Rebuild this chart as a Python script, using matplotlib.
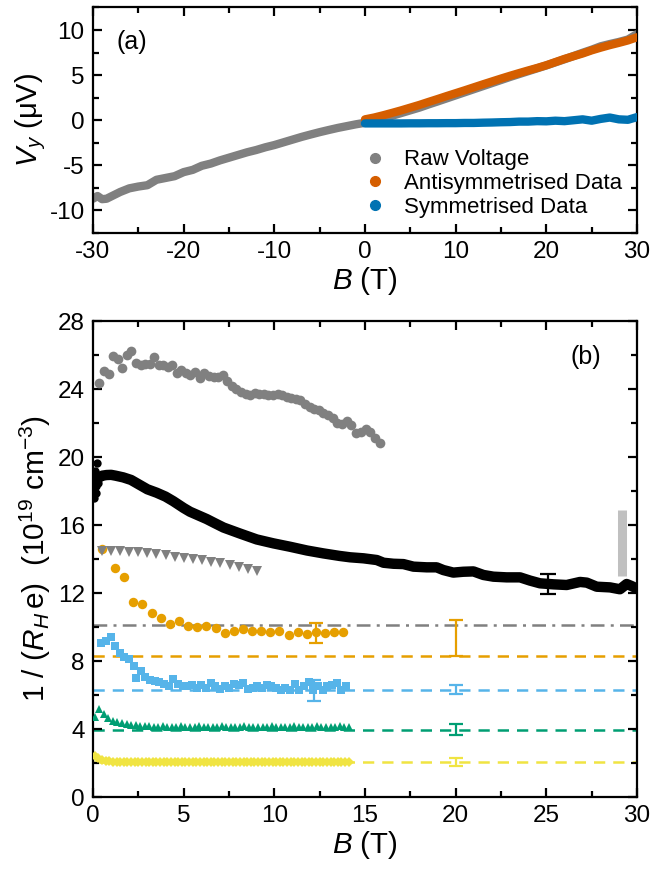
import matplotlib
matplotlib.use("Agg")
import matplotlib.pyplot as plt
from matplotlib.lines import Line2D
from matplotlib.ticker import MultipleLocator

plt.rcParams['font.family'] = ['Liberation Sans', 'DejaVu Sans']
plt.rcParams['mathtext.fontset'] = 'custom'
plt.rcParams['mathtext.rm'] = 'Liberation Sans'
plt.rcParams['mathtext.it'] = 'Liberation Sans:italic'
plt.rcParams['axes.unicode_minus'] = False

# ---------------- panel (a) data ----------------
B_raw = [-30, -29.5, -29, -28.5, -28, -27, -26, -25, -24, -23, -22, -21, -20, -19, -18, -17, -16, -15,
         -14, -13, -12, -11, -10, -9, -8, -7, -6, -5, -4, -3, -2, -1, 0,
         1, 2, 3, 4, 5, 6, 7, 8, 9, 10, 11, 12, 13, 14, 15, 16, 17, 18, 19, 20,
         21, 22, 23, 24, 25, 26, 27, 28, 29, 30]
V_raw = [-8.7, -8.4, -8.75, -8.7, -8.45, -7.95, -7.55, -7.35, -7.2, -6.6, -6.4, -6.2, -5.75, -5.5, -5.05, -4.8, -4.45, -4.15,
         -3.85, -3.55, -3.3, -3.0, -2.75, -2.45, -2.15, -1.85, -1.58, -1.32, -1.08, -0.85, -0.65, -0.45, -0.28,
         0.0, 0.2, 0.5, 0.8, 1.1, 1.4, 1.75, 2.08, 2.42, 2.76, 3.1, 3.44, 3.78, 4.12, 4.46, 4.8, 5.12, 5.44, 5.76, 6.08,
         6.42, 6.76, 7.12, 7.48, 7.82, 8.2, 8.45, 8.68, 8.95, 9.55]
B_pos = [0, 1, 2, 3, 4, 5, 6, 7, 8, 9, 10, 11, 12, 13, 14, 15, 16, 17, 18, 19, 20,
         21, 22, 23, 24, 25, 26, 27, 28, 29, 30]
V_anti = [0.1, 0.3, 0.55, 0.82, 1.1, 1.4, 1.7, 2.03, 2.35, 2.68, 3.0, 3.32, 3.65, 3.98, 4.3, 4.62, 4.93, 5.23, 5.52, 5.8, 6.1,
          6.45, 6.8, 7.1, 7.4, 7.75, 8.05, 8.33, 8.58, 8.85, 9.2]
V_sym = [-0.35, -0.35, -0.35, -0.35, -0.35, -0.34, -0.34, -0.33, -0.33, -0.32, -0.32, -0.3, -0.3, -0.27, -0.25, -0.22, -0.2,
         -0.15, -0.15, -0.1, -0.12, -0.05, -0.1, 0.0, 0.1, -0.05, 0.15, 0.3, 0.1, 0.05, 0.35]
legend_labels = ["Raw Voltage", "Antisymmetrised Data", "Symmetrised Data"]

# ---------------- panel (b) data ----------------
B_gray = [0.35, 0.61, 0.86, 1.12, 1.38, 1.62, 1.87, 2.11, 2.37, 2.63, 2.89, 3.14, 3.36, 3.62, 3.87, 4.13, 4.37, 4.61,
          4.87, 5.13, 5.37, 5.63, 5.89, 6.13, 6.39, 6.65, 6.89, 7.15, 7.39, 7.65, 7.9, 8.16, 8.41, 8.67, 8.91, 9.16,
          9.42, 9.67, 9.93, 10.19, 10.43, 10.68, 10.94, 11.2, 11.44, 11.7, 11.95, 12.21, 12.47, 12.71, 12.97, 13.22,
          13.48, 13.74, 14.0, 14.25, 14.51, 14.77, 15.03, 15.3, 15.55, 15.8]
n_gray = [24.33, 25.08, 24.88, 25.96, 25.75, 25.26, 26.0, 26.21, 25.55, 25.39, 25.45, 25.5, 25.9, 25.43, 25.39, 25.27,
          25.39, 24.96, 25.1, 24.96, 24.82, 25.0, 24.67, 24.96, 24.76, 24.73, 24.71, 24.84, 24.49, 24.18, 23.98, 23.84,
          23.71, 23.63, 23.75, 23.71, 23.71, 23.63, 23.63, 23.71, 23.63, 23.55, 23.47, 23.39, 23.35, 23.12, 22.92,
          22.84, 22.76, 22.57, 22.49, 22.29, 21.98, 21.94, 22.14, 21.86, 21.43, 21.47, 21.63, 21.5, 21.1, 20.85]

B_black = [0.35, 0.5, 0.75, 1.0, 1.25, 1.67, 2.1, 2.59, 3.0, 3.51, 4.0, 4.43, 5.0, 5.35, 6.27, 6.73, 7.2, 8.1, 9.03,
           9.95, 10.87, 11.8, 12.7, 13.6, 14.18, 14.92, 15.65, 16.02, 16.57, 17.12, 17.67, 18.4, 18.95, 19.32, 19.87,
           20.42, 20.98, 21.53, 22.08, 22.81, 23.55, 24.1, 24.65, 25.39, 26.12, 26.86, 27.23, 27.78, 28.51, 29.06,
           29.43, 29.7, 30.07]
n_black = [18.8, 18.9, 18.94, 18.95, 18.9, 18.8, 18.65, 18.35, 18.1, 17.9, 17.67, 17.4, 17.0, 16.78, 16.35, 16.1,
           15.85, 15.5, 15.15, 14.92, 14.72, 14.5, 14.33, 14.18, 14.1, 14.04, 13.94, 13.78, 13.72, 13.7, 13.55, 13.51,
           13.51, 13.35, 13.2, 13.25, 13.27, 13.06, 12.96, 12.92, 12.92, 12.73, 12.57, 12.51, 12.47, 12.65, 12.61,
           12.37, 12.33, 12.22, 12.53, 12.41, 12.22]
B_black_lo = [0.05, 0.08, 0.1, 0.12, 0.15, 0.18, 0.22, 0.24, 0.28, 0.32]
n_black_lo = [17.6, 18.0, 18.6, 19.2, 18.3, 17.9, 18.8, 19.65, 18.5, 18.9]

B_tri = [0.48, 0.97, 1.49, 1.99, 2.5, 2.99, 3.49, 4.01, 4.5, 5.02, 5.52, 6.03, 6.53, 7.02, 7.54, 8.03, 8.55, 9.04]
n_tri = [14.45, 14.47, 14.45, 14.41, 14.39, 14.33, 14.27, 14.22, 14.14, 14.08, 13.98, 13.92, 13.84, 13.75, 13.63,
         13.51, 13.43, 13.31]

B_orange = [0.5, 1.23, 1.73, 2.22, 2.72, 3.24, 3.73, 4.25, 4.74, 5.26, 5.75, 6.25, 6.76, 7.26, 7.78, 8.27, 8.79,
            9.28, 9.78, 10.28, 10.79, 11.29, 11.78, 12.3, 12.8, 13.29, 13.8]
n_orange = [14.6, 13.45, 12.96, 11.49, 11.33, 10.84, 10.55, 10.18, 10.33, 10.06, 10.0, 10.04, 9.92, 9.65, 9.75, 9.9,
            9.78, 9.76, 9.69, 9.78, 9.53, 9.71, 9.61, 9.69, 9.65, 9.71, 9.69]

B_blue = [0.46, 0.72, 0.98, 1.24, 1.49, 1.73, 1.98, 2.24, 2.39, 2.63, 2.89, 3.14, 3.4, 3.66, 3.91, 4.17, 4.43, 4.69,
          4.95, 5.2, 5.46, 5.72, 5.98, 6.24, 6.49, 6.75, 7.0, 7.26, 7.52, 7.78, 8.03, 8.29, 8.55, 8.81, 9.06, 9.32,
          9.58, 9.84, 10.09, 10.35, 10.61, 10.86, 11.12, 11.38, 11.64, 11.89, 12.15, 12.41, 12.67, 12.92, 13.18,
          13.44, 13.7, 13.95]
n_blue = [9.04, 9.18, 9.43, 8.88, 8.45, 8.25, 8.1, 7.73, 6.98, 7.43, 7.04, 6.9, 6.8, 6.74, 6.67, 6.55, 6.94, 6.67,
          6.55, 6.51, 6.61, 6.41, 6.59, 6.41, 6.71, 6.51, 6.35, 6.51, 6.41, 6.67, 6.61, 6.71, 6.35, 6.39, 6.51, 6.41,
          6.61, 6.51, 6.41, 6.31, 6.41, 6.31, 6.67, 6.27, 6.51, 6.74, 6.31, 6.51, 6.27, 6.51, 6.59, 6.71, 6.31, 6.51]

B_green = [0.1, 0.35, 0.6, 0.85, 1.1, 1.35, 1.6, 1.85, 2.1, 2.35,
           2.6, 2.85, 3.1, 3.35, 3.6, 3.85, 4.1, 4.35, 4.6, 4.85,
           5.1, 5.35, 5.6, 5.85, 6.1, 6.35, 6.6, 6.85, 7.1, 7.35,
           7.6, 7.85, 8.1, 8.35, 8.6, 8.85, 9.1, 9.35, 9.6, 9.85,
           10.1, 10.35, 10.6, 10.85, 11.1, 11.35, 11.6, 11.85, 12.1, 12.35,
           12.6, 12.85, 13.1, 13.35, 13.6, 13.85, 14.1]
n_green = [4.70, 5.15, 4.90, 4.65, 4.50, 4.40, 4.33, 4.28, 4.24, 4.21,
           4.19, 4.17, 4.16, 4.14, 4.12, 4.15, 4.13, 4.14, 4.12, 4.16,
           4.13, 4.12, 4.14, 4.15, 4.12, 4.13, 4.14, 4.12, 4.15, 4.13,
           4.14, 4.12, 4.13, 4.15, 4.14, 4.12, 4.13, 4.14, 4.12, 4.15,
           4.13, 4.12, 4.14, 4.13, 4.15, 4.12, 4.14, 4.13, 4.12, 4.15,
           4.14, 4.13, 4.12, 4.14, 4.16, 4.13, 4.12]

B_yellow = [0.1, 0.3, 0.5, 0.7, 0.9, 1.1, 1.3, 1.5, 1.7, 1.9,
            2.1, 2.3, 2.5, 2.7, 2.9, 3.1, 3.3, 3.5, 3.7, 3.9,
            4.1, 4.3, 4.5, 4.7, 4.9, 5.1, 5.3, 5.5, 5.7, 5.9,
            6.1, 6.3, 6.5, 6.7, 6.9, 7.1, 7.3, 7.5, 7.7, 7.9,
            8.1, 8.3, 8.5, 8.7, 8.9, 9.1, 9.3, 9.5, 9.7, 9.9,
            10.1, 10.3, 10.5, 10.7, 10.9, 11.1, 11.3, 11.5, 11.7, 11.9,
            12.1, 12.3, 12.5, 12.7, 12.9, 13.1, 13.3, 13.5, 13.7, 13.9,
            14.1]
n_yellow = [2.40, 2.30, 2.20, 2.14, 2.10, 2.07, 2.06, 2.05, 2.06, 2.04,
            2.05, 2.06, 2.04, 2.05, 2.06, 2.05, 2.04, 2.06, 2.05, 2.05,
            2.04, 2.06, 2.05, 2.04, 2.05, 2.06, 2.05, 2.04, 2.06, 2.05,
            2.05, 2.04, 2.06, 2.05, 2.05, 2.04, 2.06, 2.05, 2.04, 2.05,
            2.06, 2.05, 2.04, 2.05, 2.06, 2.05, 2.05, 2.04, 2.06, 2.05,
            2.04, 2.05, 2.06, 2.05, 2.04, 2.06, 2.05, 2.05, 2.04, 2.06,
            2.05, 2.04, 2.05, 2.06, 2.05, 2.04, 2.06, 2.05, 2.05, 2.04,
            2.05]

# horizontal reference levels and their error bars at B = 20 T
level_gray = 10.12
level_orange = 8.3
level_blue = 6.3
level_green = 3.97
level_yellow = 2.05
err_B = 20
err_orange_up = 2.1
err_blue = 0.26
err_green = 0.32
err_yellow = 0.23
# error bars on data
errB_black, errn_black, erre_black = 25.1, 12.52, 0.6
errB_orange, errn_orange, erre_orange = 12.3, 9.65, 0.6
errB_blue, errn_blue, erre_blue = 12.2, 6.27, 0.6
# light gray bar
bar_B = 29.15
bar_lo, bar_hi = 13.0, 16.9

C_GRAY = '#808080'
C_ORA_A = '#D55E00'
C_BLU_A = '#0072B2'
C_ORA = '#E69F00'
C_SKY = '#56B4E9'
C_GRN = '#009E73'
C_YEL = '#F0E442'

fig = plt.figure(figsize=(6.56, 8.69), dpi=100)
W, H = 656, 869
axA = fig.add_axes([93 / W, 1 - 233 / H, 544 / W, 225.5 / H])
axB = fig.add_axes([93 / W, 1 - 797 / H, 544 / W, 476 / H])

FS = 17.5
LFS = 20

def style(ax):
    ax.tick_params(which='both', direction='in', top=True, right=True, labelsize=FS, width=1.6)
    ax.tick_params(which='major', length=6.5, pad=6)
    ax.tick_params(which='minor', length=4)
    for s in ax.spines.values():
        s.set_linewidth(1.6)

# ---- panel (a)
axA.plot(B_raw, V_raw, color=C_GRAY, lw=6, solid_capstyle='round', solid_joinstyle='round', zorder=2)
axA.plot(B_pos, V_anti, color=C_ORA_A, lw=6, solid_capstyle='round', solid_joinstyle='round', zorder=3)
axA.plot(B_pos, V_sym, color=C_BLU_A, lw=6, solid_capstyle='round', solid_joinstyle='round', zorder=4)
axA.set_xlim(-30, 30)
axA.set_ylim(-12.5, 12.5)
axA.xaxis.set_major_locator(MultipleLocator(10))
axA.xaxis.set_minor_locator(MultipleLocator(5))
axA.yaxis.set_major_locator(MultipleLocator(5))
axA.yaxis.set_minor_locator(MultipleLocator(2.5))
style(axA)
axA.set_xlabel('$B$ (T)', fontsize=LFS, labelpad=1)
axA.set_ylabel('$V_y$ (μV)', fontsize=LFS + 1, labelpad=1)
axA.text(0.044, 0.845, '(a)', transform=axA.transAxes, fontsize=FS + 0.5, va='center', ha='left')
handles = [Line2D([], [], ls='none', marker='o', ms=7, color=c) for c in (C_GRAY, C_ORA_A, C_BLU_A)]
axA.legend(handles, legend_labels, loc='upper left', bbox_to_anchor=(0.47, 0.44), frameon=False,
           fontsize=16, handlelength=1.0, handletextpad=0.8, labelspacing=0.12, borderpad=0.2)

# ---- panel (b)
axB.hlines(level_gray, 0, 30, colors=C_GRAY, lw=1.8, linestyles=(0, (5.5, 2.5, 1.2, 2.5)), zorder=1)
axB.hlines(level_orange, 0, 30, colors=C_ORA, lw=1.8, linestyles=(0, (4.5, 3.2)), zorder=1)
axB.hlines(level_blue, 0, 30, colors=C_SKY, lw=1.8, linestyles=(0, (4.5, 3.2)), zorder=1)
axB.hlines(level_green, 0, 30, colors=C_GRN, lw=1.8, linestyles=(0, (4.5, 3.2)), zorder=1)
axB.hlines(level_yellow, 0, 30, colors=C_YEL, lw=1.8, linestyles=(0, (4.5, 3.2)), zorder=1)

axB.plot([bar_B, bar_B], [bar_lo, bar_hi], color='#c0c0c0', lw=6.5, solid_capstyle='butt', zorder=2)

axB.plot(B_gray, n_gray, 'o', color=C_GRAY, ms=7, mew=0, zorder=3)
axB.plot(B_orange, n_orange, 'o', color=C_ORA, ms=6.8, mew=0, zorder=3)
axB.plot(B_tri, n_tri, 'v', color=C_GRAY, ms=7, mew=0, zorder=4)
axB.plot(B_black, n_black, '-', color='black', lw=7.5, solid_capstyle='round', solid_joinstyle='round', zorder=5)
axB.plot(B_black_lo, n_black_lo, 'o', color='black', ms=6, mew=0, zorder=5)
axB.plot(B_blue, n_blue, 's', color=C_SKY, ms=5.3, mew=0, zorder=3)
axB.plot(B_green, n_green, '^', color=C_GRN, ms=6, mew=0, zorder=3)
axB.plot(B_yellow, n_yellow, 'D', color=C_YEL, ms=4.8, mew=0, zorder=3)

ekw = dict(fmt='none', elinewidth=1.6, capthick=1.6, zorder=6)
axB.errorbar([errB_black], [errn_black], yerr=[erre_black], ecolor='black', capsize=5.5, **ekw)
axB.errorbar([errB_orange], [errn_orange], yerr=[erre_orange], ecolor=C_ORA, capsize=5, **ekw)
axB.errorbar([errB_blue], [errn_blue], yerr=[erre_blue], ecolor=C_SKY, capsize=5, **ekw)
axB.errorbar([err_B], [level_orange], yerr=[[0], [err_orange_up]], ecolor=C_ORA, capsize=5, **ekw)
axB.errorbar([err_B], [level_blue], yerr=[err_blue], ecolor=C_SKY, capsize=5, **ekw)
axB.errorbar([err_B], [level_green], yerr=[err_green], ecolor=C_GRN, capsize=5, **ekw)
axB.errorbar([err_B], [level_yellow], yerr=[err_yellow], ecolor=C_YEL, capsize=5, **ekw)

axB.set_xlim(0, 30)
axB.set_ylim(0, 28)
axB.xaxis.set_major_locator(MultipleLocator(5))
axB.xaxis.set_minor_locator(MultipleLocator(2.5))
axB.yaxis.set_major_locator(MultipleLocator(4))
axB.yaxis.set_minor_locator(MultipleLocator(2))
style(axB)
axB.set_xlabel('$B$ (T)', fontsize=LFS, labelpad=1)
axB.set_ylabel('1 / ($R_H\\,$e)  (10$^{19}$ cm$^{-3}$)', fontsize=22, labelpad=3)
axB.text(0.877, 0.924, '(b)', transform=axB.transAxes, fontsize=FS + 0.5, va='center', ha='left')

# fit label sizes to the reference's measured text extents (pixels)
fig.canvas.draw()
rend = fig.canvas.get_renderer()
for lab, target, dim in ((axB.yaxis.label, 287, 'h'), (axA.yaxis.label, 94, 'h'),
                         (axA.xaxis.label, 66, 'w'), (axB.xaxis.label, 66, 'w')):
    bb = lab.get_window_extent(rend)
    cur = bb.height if dim == 'h' else bb.width
    lab.set_fontsize(lab.get_fontsize() * target / cur)

fig.savefig('out.png', dpi=100)
